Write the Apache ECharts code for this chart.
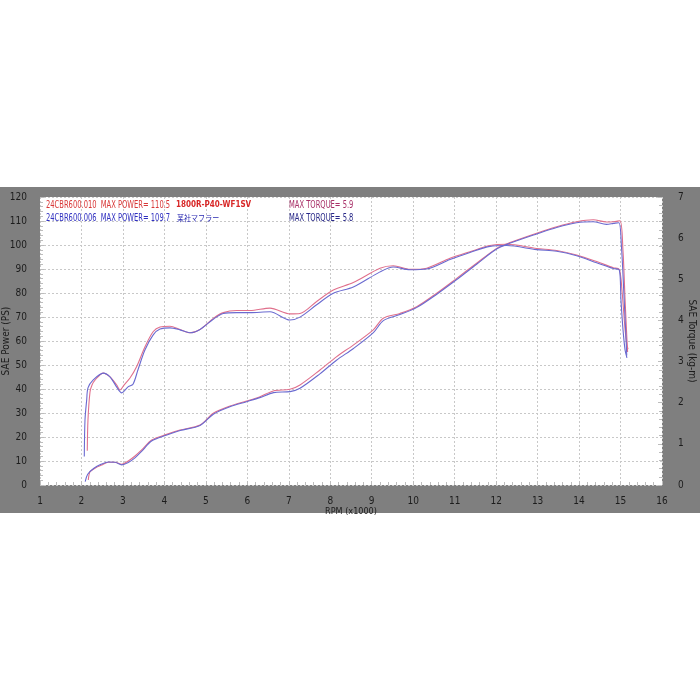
<!DOCTYPE html>
<html><head><meta charset="utf-8">
<script src="https://cdn.jsdelivr.net/npm/echarts@6/dist/echarts.min.js"></script>
<style>html,body{margin:0;padding:0;background:#fff}#c{width:700px;height:700px}</style>
</head><body><div id="c"></div>
<script>
// ---- data ----
var xTicks = [1,2,3,4,5,6,7,8,9,10,11,12,13,14,15,16];
var powerTicks = [0,10,20,30,40,50,60,70,80,90,100,110,120];
var torqueTicks = [0,1,2,3,4,5,6,7];

// Run 24CBR600.010 (red) - power PS
var rpmPowerA = [2.165,2.206,2.326,2.488,2.647,2.809,2.970,3.129,3.291,3.452,3.694,4.055,4.376,4.858,5.179,5.582,5.984,6.305,6.626,7.028,7.270,7.752,8.155,8.555,9.037,9.278,9.681,10.084,10.566,11.048,11.530,12.013,12.334,12.977,13.460,13.942,14.342,14.660,14.825,14.986,15.058,15.110,15.155,15.170];
var powerA    = [2.1,5.5,7.0,8.3,9.5,9.5,8.6,10.0,12.1,14.6,18.75,21.1,22.9,25.0,29.9,32.9,35.0,36.8,39.2,39.9,41.7,47.9,53.5,58.3,64.6,69.5,71.5,74.3,79.9,86.1,92.4,98.6,101.0,104.9,107.6,109.7,110.5,109.6,109.7,110.1,97.9,77.0,60.4,55.4];
// Run 24CBR600.006 (blue) - power PS
var rpmPowerB = [2.090,2.150,2.300,2.470,2.650,2.810,2.970,3.130,3.290,3.450,3.690,4.060,4.380,4.860,5.180,5.580,5.980,6.300,6.630,7.030,7.270,7.750,8.150,8.560,9.040,9.280,9.680,10.080,10.570,11.050,11.530,12.010,12.330,12.980,13.460,13.940,14.340,14.660,14.830,14.960,15.020,15.080,15.130,15.150];
var powerB    = [1.4,4.5,7.0,8.6,9.6,9.5,8.4,9.4,11.3,14.0,18.3,20.8,22.7,24.8,29.5,32.6,34.7,36.4,38.5,38.9,40.3,46.3,52.0,56.9,63.5,68.5,71.0,73.9,79.5,85.6,92.0,98.3,100.7,104.6,107.3,109.3,109.7,108.6,109.0,109.3,100.0,80.0,62.0,54.0];

// Run 24CBR600.010 (red) - torque kg-m
var rpmTorqueA = [2.140,2.157,2.206,2.254,2.326,2.526,2.688,2.850,2.929,3.026,3.170,3.332,3.532,3.732,3.894,4.135,4.376,4.617,4.858,5.179,5.420,5.743,6.064,6.546,7.028,7.270,7.672,8.073,8.555,9.199,9.519,9.922,10.325,10.887,11.369,11.851,12.254,12.977,13.460,13.942,14.424,14.825,14.969,15.034,15.110,15.155,15.180];
var torqueA    = [0.83,1.58,2.26,2.43,2.55,2.72,2.63,2.43,2.31,2.43,2.60,2.88,3.36,3.73,3.84,3.86,3.78,3.70,3.78,4.05,4.19,4.24,4.24,4.30,4.16,4.17,4.46,4.74,4.92,5.27,5.33,5.24,5.27,5.51,5.67,5.82,5.85,5.75,5.70,5.59,5.43,5.28,5.24,4.74,3.77,3.40,3.30];
// Run 24CBR600.006 (blue) - torque kg-m
var rpmTorqueB = [2.068,2.085,2.126,2.157,2.278,2.526,2.688,2.850,2.970,3.130,3.243,3.363,3.530,3.730,3.894,4.135,4.376,4.617,4.858,5.179,5.420,5.743,6.064,6.546,7.028,7.270,7.672,8.073,8.555,9.199,9.519,9.922,10.325,10.887,11.369,11.851,12.254,12.977,13.460,13.942,14.424,14.825,14.969,15.010,15.060,15.110,15.155];
var torqueB    = [0.69,1.58,2.07,2.36,2.55,2.72,2.63,2.38,2.24,2.39,2.45,2.80,3.28,3.65,3.79,3.82,3.77,3.70,3.78,4.03,4.17,4.19,4.19,4.21,4.01,4.08,4.38,4.66,4.81,5.18,5.30,5.23,5.25,5.48,5.65,5.80,5.82,5.72,5.68,5.57,5.40,5.26,5.23,4.50,3.77,3.28,3.09];

var legendRows = [
  {name:'24CBR600.010', power:'110.5', tag:'1800R-P40-WF1SV', torque:'5.9'},
  {name:'24CBR600.006', power:'109.7', tag:'某社マフラー', torque:'5.8'}
];

function zip(a,b){var r=[];for(var i=0;i<a.length;i++)r.push([a[i],b[i]]);return r;}

var RED = '#e0708c', BLUE = '#6a6ad0';
var NARROW = '"Liberation Sans Narrow","DejaVu Sans Condensed",sans-serif';
var LBL = '#1c1c1c';

function txt(x,y,s,fill,font,sx){
  return {type:'text',z:100,silent:true,x:x,y:y,scaleX:sx,scaleY:1,
    style:{text:s,fill:fill,font:font,textAlign:'left',textVerticalAlign:'middle'}};
}

var chart = echarts.init(document.getElementById('c'), null, {renderer:'canvas'});
var option = {
  backgroundColor:'#ffffff',
  animation:false,
  grid:{left:40,right:38,top:197,bottom:215,containLabel:false,outerBoundsMode:'none',
        show:true,backgroundColor:'#ffffff',borderWidth:0},
  graphic:[
    {type:'rect',z:-10,silent:true,shape:{x:0,y:187,width:700,height:326},style:{fill:'#7f7f7f'}},
    txt(46,205,legendRows[0].name+'  MAX POWER= '+legendRows[0].power,'#d83838','10px '+NARROW,0.75),
    txt(176,205,legendRows[0].tag,'#d82828','bold 8px "DejaVu Sans",sans-serif',0.9),
    txt(289,205,'MAX TORQUE= '+legendRows[0].torque,'#a83068','10px '+NARROW,0.75),
    txt(46,218,legendRows[1].name+'  MAX POWER= '+legendRows[1].power,'#3030c0','10px '+NARROW,0.75),
    txt(177,218,legendRows[1].tag,'#2828b0','8px "Noto Sans CJK JP",sans-serif',0.88),
    txt(289,218,'MAX TORQUE= '+legendRows[1].torque,'#282888','10px '+NARROW,0.75)
  ],
  xAxis:{type:'value',min:1,max:16,interval:1,
    name:'RPM (x1000)',nameLocation:'middle',nameGap:22,nameMoveOverlap:false,
    nameTextStyle:{color:LBL,fontSize:9,fontFamily:NARROW},
    axisLine:{show:false},
    axisTick:{show:true,inside:true,length:4,lineStyle:{color:'#bdbdbd'}},
    minorTick:{show:true,splitNumber:5,length:3,lineStyle:{color:'#bdbdbd'}},
    axisLabel:{color:LBL,fontSize:10,fontFamily:NARROW,margin:11,
      formatter:function(v){return xTicks.indexOf(v)>=0?String(v):'';}},
    splitLine:{show:true,lineStyle:{color:'#c8c8c8',type:[2,2],width:1}}
  },
  yAxis:[
    {type:'value',min:0,max:120,interval:10,position:'left',
      name:'SAE Power (PS)',nameLocation:'middle',nameGap:29,nameRotate:90,nameMoveOverlap:false,
      nameTextStyle:{color:LBL,fontSize:10,fontFamily:NARROW},
      axisLine:{show:false},
      axisTick:{show:true,inside:true,length:4,lineStyle:{color:'#bdbdbd'}},
      minorTick:{show:true,splitNumber:5,length:3,lineStyle:{color:'#bdbdbd'}},
      axisLabel:{color:LBL,fontSize:10,fontFamily:NARROW,margin:13,
        formatter:function(v){return powerTicks.indexOf(v)>=0?String(v):'';}},
      splitLine:{show:true,lineStyle:{color:'#c8c8c8',type:[2,2],width:1}}
    },
    {type:'value',min:0,max:7,interval:1,position:'right',
      name:'SAE Torque (kg-m)',nameLocation:'middle',nameGap:25,nameRotate:-90,nameMoveOverlap:false,
      nameTextStyle:{color:LBL,fontSize:10,fontFamily:NARROW},
      axisLine:{show:false},
      axisTick:{show:true,inside:true,length:4,lineStyle:{color:'#bdbdbd'}},
      minorTick:{show:true,splitNumber:5,length:3,lineStyle:{color:'#bdbdbd'}},
      axisLabel:{color:LBL,fontSize:10,fontFamily:NARROW,margin:16,
        formatter:function(v){return torqueTicks.indexOf(v)>=0?String(v):'';}},
      splitLine:{show:false}
    }
  ],
  series:[
    {type:'line',name:'power-010',yAxisIndex:0,data:zip(rpmPowerA,powerA),showSymbol:false,smooth:0.3,lineStyle:{color:RED,width:1.1},z:3},
    {type:'line',name:'power-006',yAxisIndex:0,data:zip(rpmPowerB,powerB),showSymbol:false,smooth:0.3,lineStyle:{color:BLUE,width:1.1},z:4},
    {type:'line',name:'torque-010',yAxisIndex:1,data:zip(rpmTorqueA,torqueA),showSymbol:false,smooth:0.3,lineStyle:{color:RED,width:1.1},z:3},
    {type:'line',name:'torque-006',yAxisIndex:1,data:zip(rpmTorqueB,torqueB),showSymbol:false,smooth:0.3,lineStyle:{color:BLUE,width:1.1},z:4}
  ]
};
chart.setOption(option);
</script></body></html>
